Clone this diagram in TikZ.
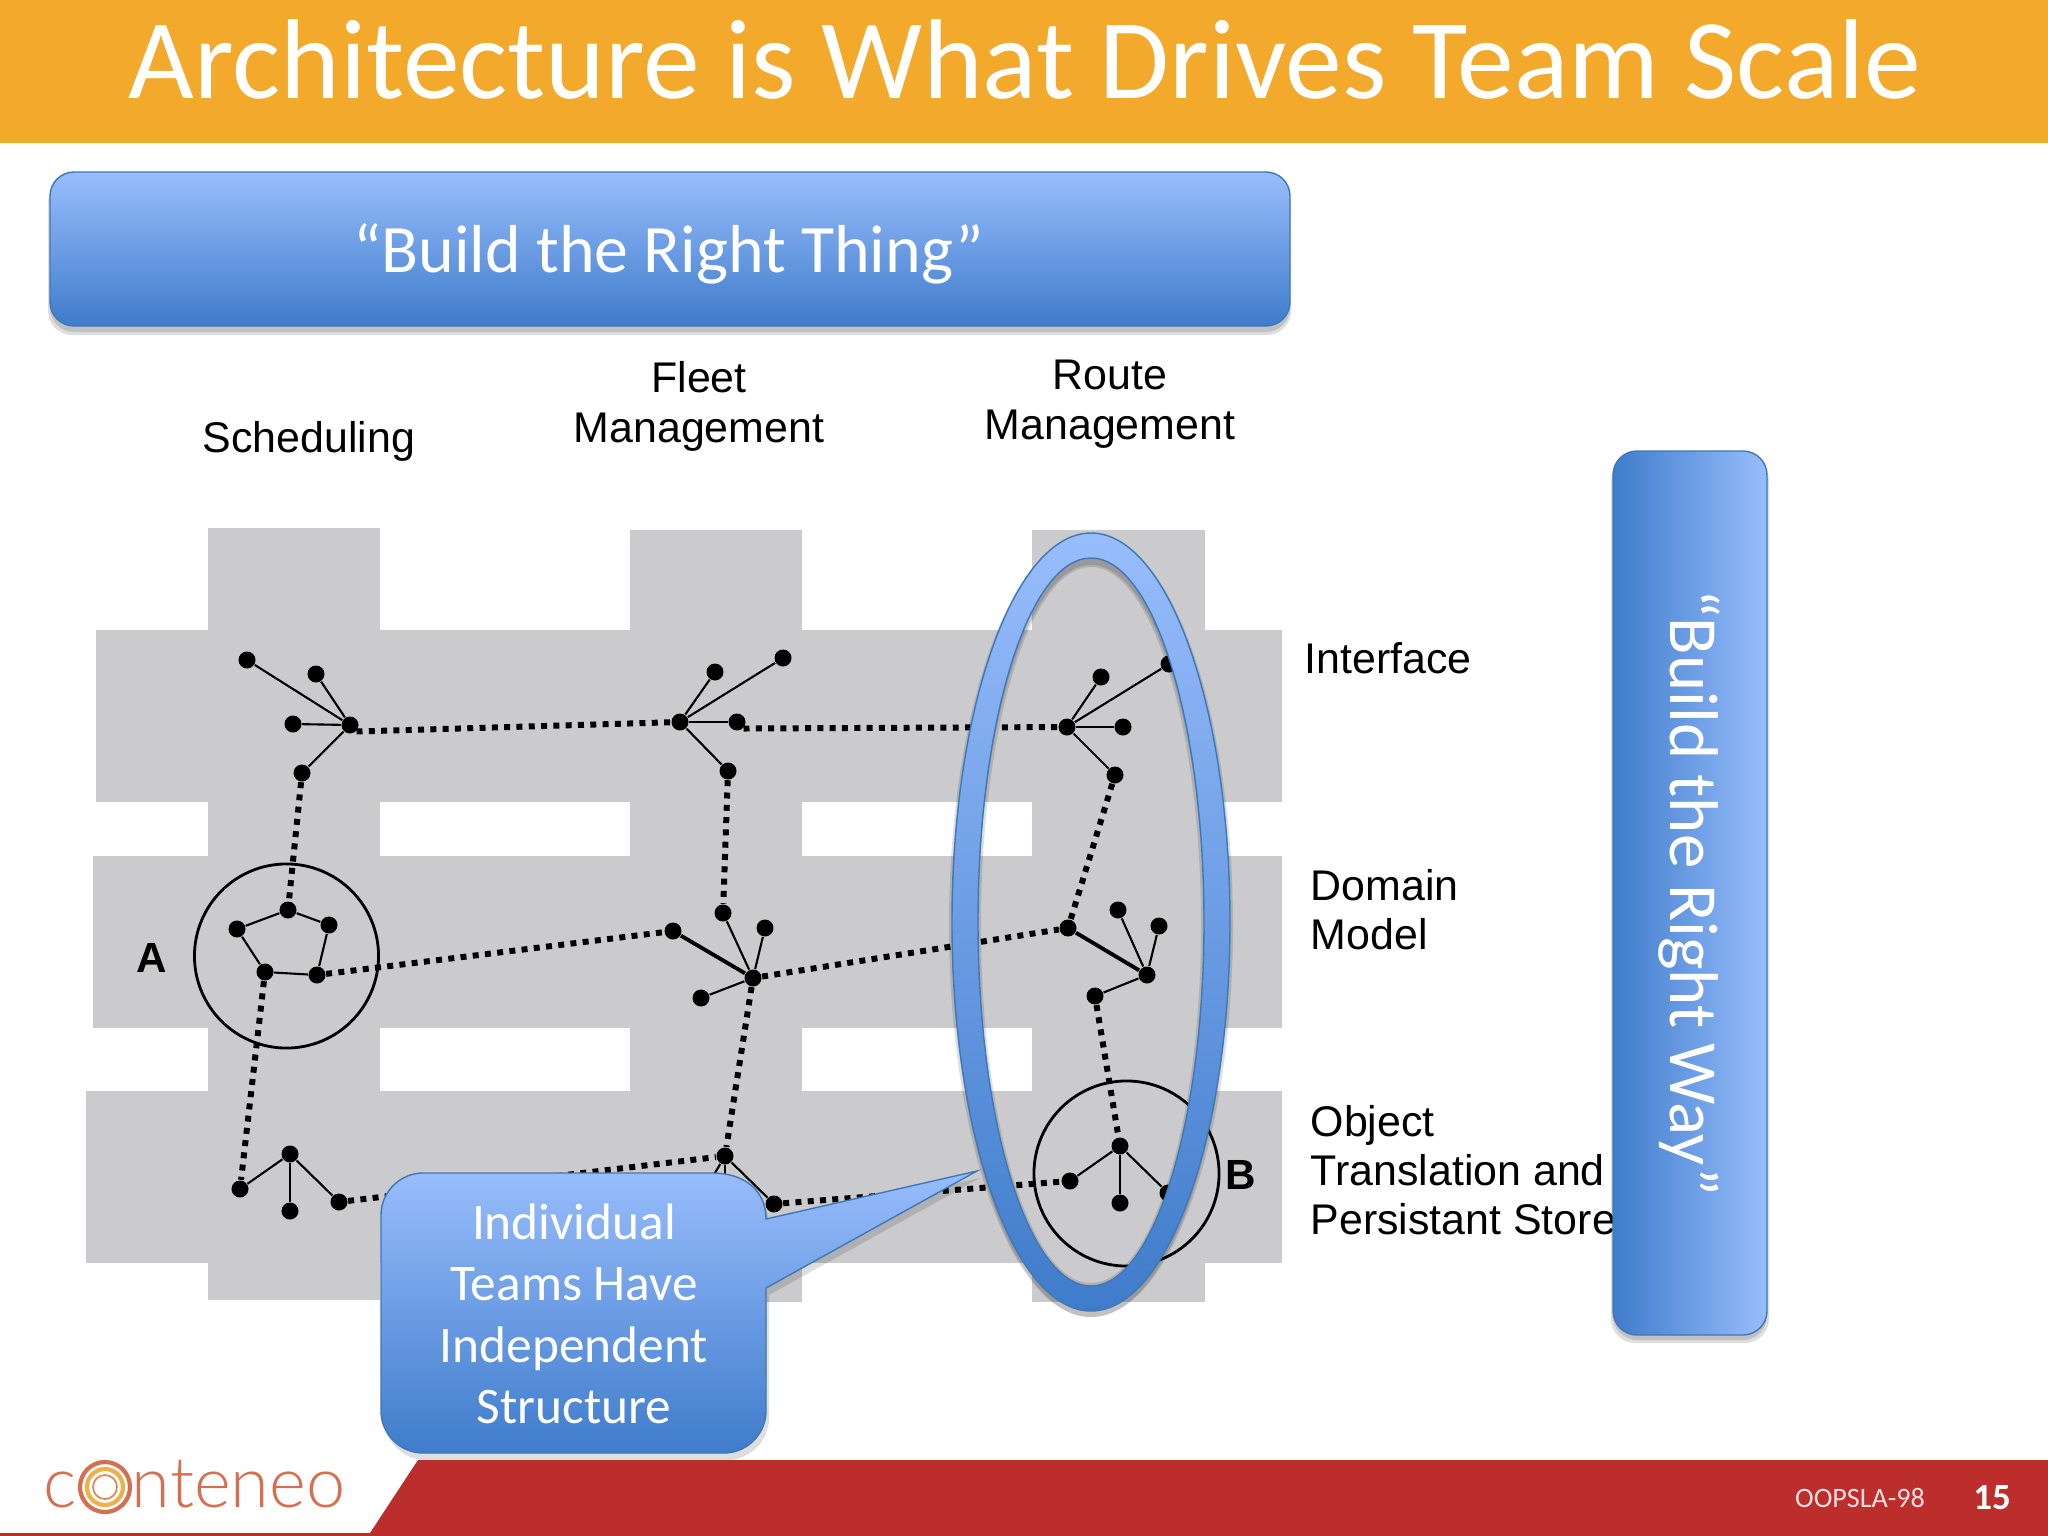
\documentclass[tikz,border=0pt]{standalone}
\usepackage{fontspec}
\setmainfont{Carlito}
\newfontfamily\labelfont{Liberation Sans}
\newfontfamily\logofont{Lato Light}
\usetikzlibrary{positioning}
\definecolor{headorange}{HTML}{F3A92C}
\definecolor{footred}{HTML}{BC2E2C}
\definecolor{bandgray}{HTML}{CBCACC}
\definecolor{boxlight}{HTML}{98BDFC}
\definecolor{boxdark}{HTML}{3F7CCB}
\definecolor{boxedge}{HTML}{3E78B6}
\definecolor{logored}{HTML}{D66F50}
\definecolor{logoamber}{HTML}{EDB04A}
\newcommand{\calloutpath}{(381,1215) .. controls (381,1192) and (400,1173) .. (423,1173) -- (712,1173) .. controls (744,1173) and (766,1190) .. (766,1219) -- (977,1171) -- (766,1288) -- (766,1411) .. controls (766,1434) and (747,1453) .. (724,1453) -- (423,1453) .. controls (400,1453) and (381,1434) .. (381,1411) -- cycle}
\tikzset{
	band/.style = {fill = bandgray, draw = none},
	dot/.style = {circle, fill = black, inner sep = 0pt, minimum size = .17cm},
	twig/.style = {line width = .6pt},
	dotlink/.style = {line width = 1.7pt, dash pattern = on 1.7pt off 1.8pt},
	blob/.style = {line width = .8pt},
	bluebox/.style = {draw = boxedge, line width = .4pt},
	softshadow/.style = {fill = black, fill opacity = .13, draw = none},
	slidetext/.style = {text = white, align = center},
	archlabel/.style = {font = \labelfont\fontsize{12.2}{13.9}\selectfont, align = left, inner sep = 0pt},
	toplabel/.style = {font = \labelfont\fontsize{12.2}{14.2}\selectfont, align = center, inner sep = 0pt}
}
\begin{document}
\begin{tikzpicture}[x = .01cm, y = -.01cm]
	\useasboundingbox (0,0) rectangle (2048,1536);
	\fill[white] (0,0) rectangle (2048,1536);

	\fill[headorange] (0,0) rectangle (2048,143);
	\node[slidetext, font = \fontsize{32.3}{34}\selectfont] (title) at (1025,59) {Architecture is What Drives Team Scale};

	\fill[band] (208,528) rectangle (380,1300);
	\fill[band] (630,530) rectangle (802,1302);
	\fill[band] (1032,530) rectangle (1205,1302);
	\fill[band] (96,630) rectangle (1282,802);
	\fill[band] (93,856) rectangle (1282,1028);
	\fill[band] (86,1091) rectangle (1282,1263);

	\foreach \name/\px/\py in {s0/350/725, s1/247/660, s2/316/674, s3/293/724, s4/302/773,
		f0/680/722, f1/715/672, f2/783/658, f3/737/722, f4/728/771,
		r0/1067/727, r1/1101/677, r2/1169/664, r3/1123/727, r4/1115/775,
		a1/288/910, a2/237/929, a3/329/925, a4/265/972, a5/317/975,
		d0/673/931, d1/723/913, d2/765/928, d3/753/978, d4/701/998,
		e0/1068/928, e1/1118/910, e2/1159/926, e3/1147/975, e4/1095/996,
		o1/240/1189, o2/290/1154, o3/290/1211, o4/339/1202,
		p1/725/1156, p2/774/1204,
		q0/1120/1146, q1/1070/1181, q2/1120/1203, q3/1168/1193}
		\node[dot] (\name) at (\px,\py) {};
	\coordinate (p3) at (690,1215);
	\coordinate (p4) at (725,1215);

	\foreach \a/\b in {s0/s1, s0/s2, s0/s3, s0/s4, f0/f1, f0/f2, f0/f3, f0/f4,
		r0/r1, r0/r2, r0/r3, r0/r4, a1/a2, a2/a4, a4/a5, a5/a3, a3/a1,
		d3/d1, d3/d2, d3/d4, e3/e1, e3/e2, e3/e4,
		o2/o1, o2/o3, o2/o4, p1/p2, p1/p3, p1/p4, q0/q1, q0/q2, q0/q3}
		\draw[twig] (\a) -- (\b);
	\draw[blob, line width = 1.1pt] (d3) -- (d0);
	\draw[blob, line width = 1.1pt] (e3) -- (e0);

	\draw[dotlink] (s0.south east) -- (f0);
	\draw[dotlink] (f3.south east) -- (r0);
	\foreach \a/\b in {s4/a1, f4/d1, r4/e0, a5/d0, d3/e0,
		a4/o1, d3/p1, e4/q0, o4/p1, p2/q1}
		\draw[dotlink] (\a) -- (\b);

	\node[draw, blob, circle, inner sep = 0pt, minimum size = 1.84cm] (circleA) at (286.5,956) {};
	\node[draw, blob, circle, inner sep = 0pt, minimum size = 1.85cm] (circleB) at (1126.5,1173.5) {};
	\node[font = \labelfont\bfseries\fontsize{12}{14}\selectfont] (labelA) at (152,958) {A};
	\node[font = \labelfont\bfseries\fontsize{12}{14}\selectfont] (labelB) at (1241,1175) {B};

	\node[toplabel] (sched) at (309,441) {Scheduling};
	\node[toplabel] (fleet) at (699,406) {Fleet\\Management};
	\node[toplabel] (route) at (1110,404) {Route\\Management};
	\node[archlabel, anchor = west] (iface) at (1304,658) {Interface};
	\node[archlabel, anchor = west] (domain) at (1310,910) {Domain\\Model};
	\node[archlabel, anchor = west] (object) at (1310,1170) {Object\\Translation and\\Persistant Store};

	% top box
	\fill[softshadow, rounded corners = .24cm] (48,178) rectangle (1291,335);
	\fill[softshadow, rounded corners = .24cm] (50,176) rectangle (1290,332);
	\shade[bluebox, rounded corners = .24cm, top color = boxlight, bottom color = boxdark] (50,172) rectangle (1290,326);
	\node[slidetext, font = \fontsize{19.3}{22}\selectfont] (buildthing) at (669,254) {“Build the Right Thing”};

	% right box
	\fill[softshadow, rounded corners = .24cm] (1611,457) rectangle (1769,1343);
	\fill[softshadow, rounded corners = .24cm] (1613,455) rectangle (1767,1340);
	\shade[bluebox, rounded corners = .24cm, left color = boxdark, right color = boxlight] (1613,451) rectangle (1767,1335);
	\node[slidetext, rotate = -90, font = \fontsize{19.6}{22}\selectfont] (buildway) at (1689,893) {“Build the Right Way”};

	% ring
	\fill[softshadow, even odd rule] (1091,927) ellipse [x radius = 139, y radius = 390] (1091,927) ellipse [x radius = 113, y radius = 362];
	\fill[softshadow, even odd rule] (1091,925) ellipse [x radius = 142, y radius = 392] (1091,925) ellipse [x radius = 110, y radius = 358];
	\shade[bluebox, even odd rule, top color = boxlight, bottom color = boxdark] (1091,922) ellipse [x radius = 139, y radius = 389] (1091,922) ellipse [x radius = 113, y radius = 364];

	% callout
	\fill[softshadow, shift = {(3,7)}] \calloutpath;
	\shade[bluebox, top color = boxlight, bottom color = boxdark] \calloutpath;
	\node[slidetext, font = \fontsize{14.6}{17.5}\selectfont] (teamnote) at (574,1314) {Individual\\Teams Have\\Independent\\Structure};

	% footer
	\fill[footred] (418,1460) -- (2048,1460) -- (2048,1536) -- (0,1536) -- (0,1533) -- (370,1533) -- cycle;
	\node[text = white!85!footred, font = \fontsize{8}{10}\selectfont] (confname) at (1860,1498) {OOPSLA-98};
	\node[text = white, font = \bfseries\fontsize{10.5}{12}\selectfont] (pagenum) at (1992,1498) {15};

	% logo
	\node[text = logored, anchor = west, inner sep = 0pt, font = \logofont\fontsize{20}{22}\selectfont] (logo) at (43,1484) {c\kern1pt o\kern3.5pt nteneo};
	\draw[logored, line width = 1.2pt, fill = white] (105,1487) circle [radius = 25];
	\draw[logoamber, line width = 1.2pt] (105,1487) circle [radius = 18];
	\draw[logored!60!logoamber, line width = .5pt] (105,1487) circle [radius = 12];
\end{tikzpicture}
\end{document}
